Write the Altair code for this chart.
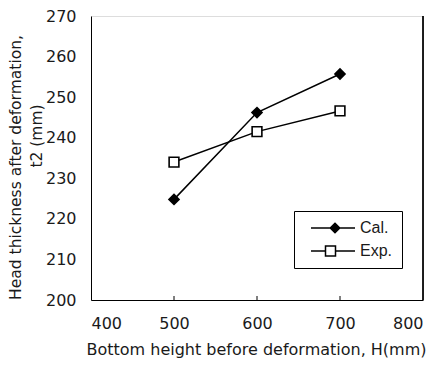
import altair as alt
import pandas as pd

h_vals = [500, 600, 700]
cal_vals = [224.8, 246.2, 255.7]
exp_vals = [234.0, 241.5, 246.6]
series_names = ["Cal.", "Exp."]
x_ticks = [400, 500, 600, 700, 800]
y_ticks = [200, 210, 220, 230, 240, 250, 260, 270]

df = pd.DataFrame({
    "H": h_vals * 2,
    "t2": cal_vals + exp_vals,
    "series": [series_names[0]] * 3 + [series_names[1]] * 3,
})
ticks_df = pd.DataFrame({"H": h_vals})

FONT = "DejaVu Sans"
TXT = "#1a1a1a"
W, H = 332, 284

xscale = alt.Scale(domain=[400, 800], nice=False, zero=False)
yscale = alt.Scale(domain=[200, 270], nice=False, zero=False)

x_enc = alt.X("H:Q", scale=xscale, axis=alt.Axis(
    values=x_ticks, title="Bottom height before deformation, H(mm)", grid=False,
    ticks=False, labelPadding=15, titlePadding=10, domainColor="black",
    labelFontSize=16, titleFontSize=16, titleFontWeight="normal",
    labelColor=TXT, titleColor=TXT, labelFont=FONT, titleFont=FONT, titleX=165))
y_enc = alt.Y("t2:Q", scale=yscale, axis=alt.Axis(
    values=y_ticks, title="Head thickness after deformation,", grid=False,
    ticks=False, labelPadding=15, domainColor="black",
    labelFontSize=16, titleFontSize=15.5, titleFontWeight="normal",
    labelColor=TXT, titleColor=TXT, labelFont=FONT, titleFont=FONT,
    titleX=-76, titleY=151, titleAngle=-90, titleAlign="center", titleBaseline="middle"))

lines = alt.Chart(df).mark_line(color="black", strokeWidth=1.5).encode(
    x=x_enc, y=y_enc, detail="series:N")

cal_pts = alt.Chart(df).transform_filter(alt.datum.series == series_names[0]).mark_point(
    shape="diamond", filled=True, fill="black", stroke="black", size=90, opacity=1
).encode(x="H:Q", y="t2:Q")

exp_pts = alt.Chart(df).transform_filter(alt.datum.series == series_names[1]).mark_point(
    shape="square", filled=True, fill="white", stroke="black", strokeWidth=1.6, size=95, opacity=1
).encode(x="H:Q", y="t2:Q")

cal_path = "M-4.4,0H4.4M0.4,-0.95L1.35,0L0.4,0.95L-0.55,0Z"
exp_path = "M-4.4,0H-1.5M0.5,0H4.4M-1.5,-1H0.5V1H-1.5Z"

leg = alt.Legend(title=None, orient="none", legendX=203, legendY=195,
                 padding=9, strokeColor="black", fillColor="white",
                 symbolSize=100, symbolStrokeColor="black", symbolStrokeWidth=1.5,
                 symbolOffset=22, labelOffset=19,
                 labelFontSize=16, labelFont="Liberation Sans", labelColor=TXT,
                 rowPadding=7, labelExpr="datum.label + '     '")

legend_layer = alt.Chart(df).transform_filter("false").mark_point(
    filled=False, strokeWidth=1.5, opacity=1
).encode(
    x="H:Q", y="t2:Q",
    shape=alt.Shape("series:N", scale=alt.Scale(domain=series_names, range=[cal_path, exp_path]),
                    legend=leg),
    fill=alt.Fill("series:N", scale=alt.Scale(domain=series_names, range=["black", "white"]),
                  legend=leg),
    stroke=alt.Stroke("series:N", scale=alt.Scale(domain=series_names, range=["black", "black"]),
                      legend=leg),
)

bticks = alt.Chart(ticks_df).mark_rule(color="black", strokeWidth=1).encode(
    x="H:Q", y=alt.value(H), y2=alt.value(H - 4))

right_rule = alt.Chart(ticks_df).mark_rule(color="black", strokeWidth=1).encode(
    x=alt.value(W), y=alt.value(0), y2=alt.value(H))

sub_title = alt.Chart(ticks_df).transform_filter(alt.datum.H == 500).mark_text(
    text="t2 (mm)", angle=270, fontSize=15.5, font=FONT, color=TXT, align="center", baseline="middle"
).encode(x=alt.value(-54), y=alt.value(120))

chart = alt.layer(lines, cal_pts, exp_pts, legend_layer, bticks, right_rule, sub_title).properties(
    width=W, height=H,
    autosize=alt.AutoSizeParams(type="none"),
    padding={"left": 83, "top": 8, "right": 7, "bottom": 60},
).configure_view(stroke=None).configure(background="white")

chart.save("out.html", embed_options={"renderer": "svg", "actions": False})
